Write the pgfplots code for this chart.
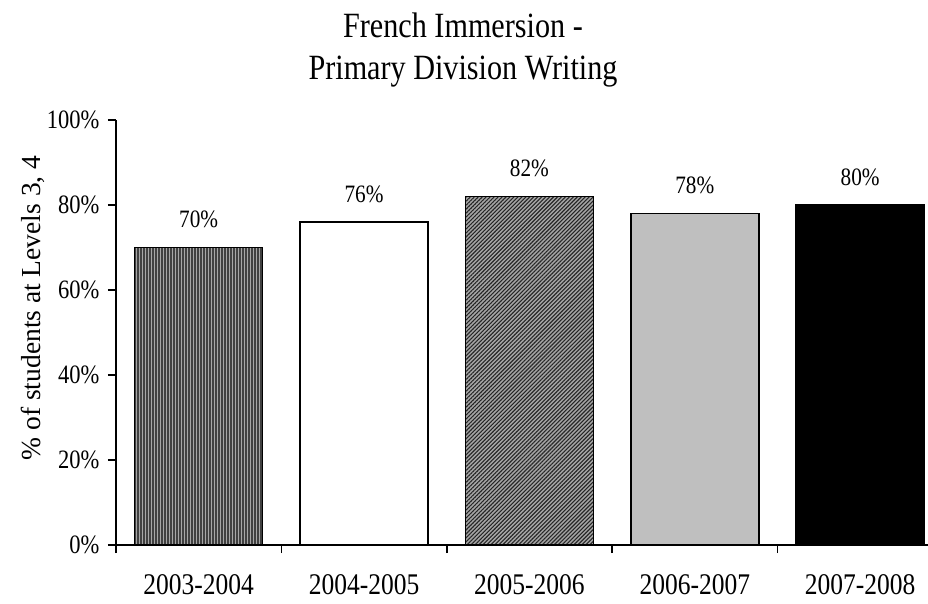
\documentclass[border=0pt]{standalone}
\usepackage{pgfplots}
\pgfplotsset{compat=1.18}
\usetikzlibrary{patterns.meta}
\usepackage{fontspec}
\setmainfont{Liberation Serif}
\newfontfamily\narrow{Liberation Serif}[FakeStretch=0.85]
\begin{document}
\begin{tikzpicture}
\useasboundingbox (-116bp,-59bp) rectangle (812bp,545bp);
\begin{axis}[
  at={(0,0)}, anchor=south west,
  scale only axis, width=812bp, height=425bp,
  xmin=-0.5, xmax=4.41, ymin=0, ymax=100,
  axis x line*=bottom, axis y line*=left,
  axis line style={line width=1.5bp, black},
  ybar, bar width=128bp, bar shift=0pt,
  xtick={0,1,2,3,4},
  xticklabels={2003-2004,2004-2005,2005-2006,2006-2007,2007-2008},
  minor xtick={-0.5,0.5,1.5,2.5,3.5},
  major x tick style={draw=none},
  ytick={0,20,40,60,80,100},
  yticklabels={0\%,20\%,40\%,60\%,80\%,100\%},
  major tick length=8bp, minor tick length=8bp,
  tick align=outside,
  tick style={line width=1.5bp, black},
  minor tick style={line width=1.5bp, black},
  x tick label style={font=\narrow\fontsize{30bp}{36bp}\selectfont, inner ysep=0.5bp, yshift=-21bp},
  y tick label style={font=\narrow\fontsize{26.5bp}{30bp}\selectfont, xshift=-5bp},
  nodes near coords={\pgfmathprintnumber[assume math mode=true]{\pgfplotspointmeta}\%},
  every node near coord/.append style={font=\narrow\fontsize{25bp}{30bp}\selectfont, anchor=center, yshift=28bp, black},
]
\addplot[draw=black, line width=1.5bp, fill=black!35,
  postaction={pattern={Lines[angle=90,distance=3bp,line width=1.2bp]}, pattern color=black!75}]
  coordinates {(0,70)};
\addplot[draw=black, line width=1.5bp, fill=white] coordinates {(1,76)};
\addplot[draw=black, line width=1.5bp, fill=black!35,
  postaction={pattern={Lines[angle=45,distance=2.8bp,line width=1.1bp]}, pattern color=black!85}]
  coordinates {(2,82)};
\addplot[draw=black, line width=1.5bp, fill=black!25] coordinates {(3,78)};
\addplot[draw=black, line width=1.5bp, fill=black] coordinates {(4,80)};
\end{axis}
\node[font=\narrow\fontsize{35.5bp}{42bp}\selectfont, align=center] at (347bp,495bp) {French Immersion -\\Primary Division Writing};
\node[font=\fontsize{27.5bp}{32bp}\selectfont, rotate=90] at (-83bp,237bp) {\% of students at Levels 3, 4};
\end{tikzpicture}
\end{document}
